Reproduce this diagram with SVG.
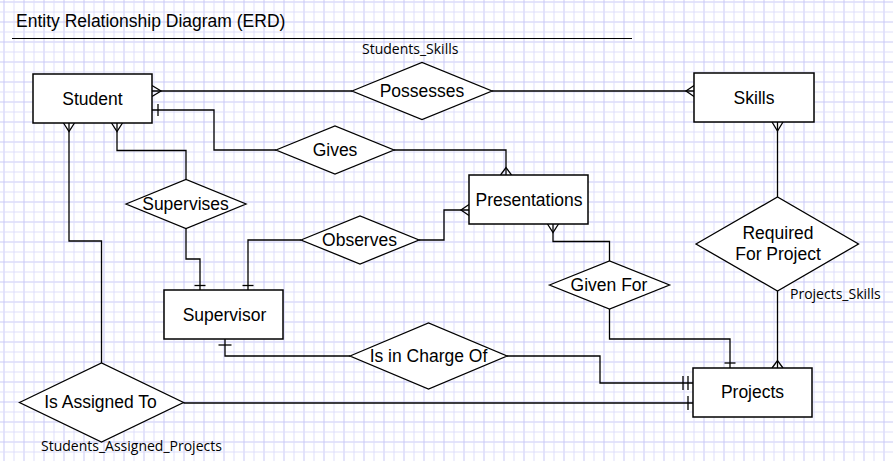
<svg xmlns="http://www.w3.org/2000/svg" width="893" height="461" viewBox="0 0 893 461">
<defs>
<pattern id="grid" width="20" height="20" patternUnits="userSpaceOnUse" x="3.5" y="1.5">
<rect width="20" height="20" fill="#ffffff"/>
<path d="M0,0.5 H20 M0.5,0 V20" stroke="#c8c8f6" stroke-width="1" fill="none"/>
<path d="M0,10.5 H20 M10.5,0 V20" stroke="#dedefa" stroke-width="1" fill="none"/>
</pattern>
</defs>
<style>
.ent{fill:#fff;stroke:#000;stroke-width:1.5}
.rel{fill:#fff;stroke:#000;stroke-width:1.3}
.t{font-family:"Liberation Sans",Arial,sans-serif;font-size:17.5px;fill:#000;text-anchor:middle}
.lbl{font-family:"Open Sans","Noto Sans",sans-serif;font-size:14px;fill:#000}
.c path{fill:none;stroke:#000;stroke-width:1.3}
</style>
<rect width="893" height="461" fill="url(#grid)"/>
<g id="title">
<text x="16" y="27" style="font-family:'Liberation Sans',Arial,sans-serif;font-size:17.5px;fill:#000">Entity Relationship Diagram (ERD)</text>
<path d="M12,38.5 H632" stroke="#000" stroke-width="1"/>
</g>
<g class="c" id="connectors">
<path d="M152,91 H352"/><path d="M152,85.5 L161,91 L152,96.5"/>
<path d="M492,91 H694"/><path d="M694,85.5 L686,91 L694,96.5"/>
<path d="M152,110 H214 V150 H276"/><path d="M158,104 V116"/>
<path d="M394,150 H506 V175"/><path d="M500.5,175 L506,167.5 L511.5,175"/>
<path d="M117,123 V150.5 H186 V179.5"/><path d="M111.5,123 L117,131.5 L122.5,123"/>
<path d="M186,228.5 V259 H200 V290"/><path d="M194.5,285.5 H205.5"/>
<path d="M301,240 H248 V290"/><path d="M242.5,285.5 H253.5"/>
<path d="M419,240 H444 V210 H469"/><path d="M469,204.5 L461,210 L469,215.5"/>
<path d="M553,224 V241.5 H609.5 V261"/><path d="M547.5,224 L553,232.5 L558.5,224"/>
<path d="M609.5,309 V339 H730 V368"/><path d="M724.5,363 H735.5"/>
<path d="M777.5,122 V197"/><path d="M772,122 L777.5,131 L783,122"/>
<path d="M777.5,291 V368"/><path d="M772,368 L777.5,360.5 L783,368"/>
<path d="M225,339 V356 H350"/><path d="M218.5,345 H231.5"/>
<path d="M507,356 H600 V383 H693"/><path d="M683,376 V390 M688,376 V390"/>
<path d="M69,123 V241 H101.5 V363"/><path d="M63.5,123 L69,131.5 L74.5,123"/>
<path d="M183.5,403 H693"/><path d="M688,396 V410"/>
</g>
<g id="student"><rect class="ent" x="33" y="74" width="119" height="49"/><text class="t" x="92.5" y="105">Student</text></g>
<g id="skills"><rect class="ent" x="694" y="73" width="120" height="49"/><text class="t" x="754" y="103.5">Skills</text></g>
<g id="presentations"><rect class="ent" x="469" y="175" width="119" height="49"/><text class="t" x="529" y="206">Presentations</text></g>
<g id="supervisor"><rect class="ent" x="164" y="290" width="119" height="49"/><text class="t" x="224.5" y="321">Supervisor</text></g>
<g id="projects"><rect class="ent" x="693" y="368" width="119" height="49"/><text class="t" x="752.5" y="398">Projects</text></g>
<g id="possesses"><polygon class="rel" points="352,91 422,62.5 492,91 422,119.5"/><text class="t" x="422" y="97">Possesses</text></g>
<g id="gives"><polygon class="rel" points="276,150 335,126 394,150 335,174"/><text class="t" x="335" y="155.5">Gives</text></g>
<g id="supervises"><polygon class="rel" points="126,204 186,179.5 246,204 186,228.5"/><text class="t" x="185.5" y="209.5">Supervises</text></g>
<g id="observes"><polygon class="rel" points="301,240 360,216 419,240 360,264"/><text class="t" x="359.5" y="245.5">Observes</text></g>
<g id="givenfor"><polygon class="rel" points="549.5,285 609.5,261 669.5,285 609.5,309"/><text class="t" x="609" y="290.5">Given For</text></g>
<g id="required"><polygon class="rel" points="696,244 777.5,197 858.5,244 777.5,291"/><text class="t" x="778" y="239">Required</text><text class="t" x="778" y="260">For Project</text></g>
<g id="incharge"><polygon class="rel" points="350,356 428.5,323 507,356 428.5,389"/><text class="t" x="428.5" y="362">Is in Charge Of</text></g>
<g id="assigned"><polygon class="rel" points="19.5,402.5 101.5,363 183.5,402.5 101.5,442"/><text class="t" x="100.5" y="407.5">Is Assigned To</text></g>
<g id="labels">
<text class="lbl" x="362" y="54">Students_Skills</text>
<text class="lbl" x="790" y="299">Projects_Skills</text>
<text class="lbl" x="41" y="451">Students_Assigned_Projects</text>
</g>
</svg>
